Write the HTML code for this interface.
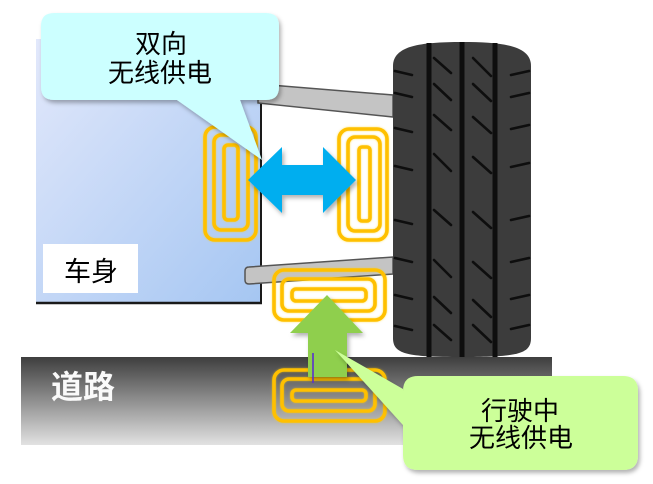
<!DOCTYPE html>
<html><head><meta charset="utf-8"><style>
html,body{margin:0;padding:0;background:#fff;}
svg{display:block;}
text{font-family:"Liberation Sans","Noto Sans CJK SC",sans-serif;}
</style></head><body>
<svg width="653" height="484" viewBox="0 0 653 484" xmlns="http://www.w3.org/2000/svg">
<defs>
<linearGradient id="pan" x1="0" y1="0" x2="1" y2="1">
<stop offset="0" stop-color="#e2e8fb"/><stop offset="1" stop-color="#a5c6f2"/>
</linearGradient>
<linearGradient id="road" x1="0" y1="0" x2="0" y2="1">
<stop offset="0" stop-color="#3e3e3e"/><stop offset="1" stop-color="#e2e2e2"/>
</linearGradient>
<filter id="sh" x="-20%" y="-20%" width="140%" height="150%">
<feDropShadow dx="2" dy="3" stdDeviation="2" flood-color="#000" flood-opacity="0.3"/>
</filter>
<filter id="glow" x="-10%" y="-10%" width="120%" height="120%">
<feDropShadow dx="0" dy="0" stdDeviation="1" flood-color="#ffd000" flood-opacity="0.6"/>
</filter>
</defs>

<!-- road -->
<rect x="21" y="357" width="531" height="88" fill="url(#road)"/>
<text x="83" y="398" font-size="32" font-weight="bold" fill="#fafafa" text-anchor="middle">道路</text>

<!-- body panel -->
<rect x="36" y="39" width="226" height="264" fill="url(#pan)"/>
<line x1="261" y1="39" x2="261" y2="304" stroke="#1a1a1a" stroke-width="2"/>
<line x1="36" y1="303" x2="262" y2="303" stroke="#1a1a1a" stroke-width="2.5"/>
<rect x="43" y="244" width="95" height="49" fill="#fff"/>
<text x="91" y="281" font-size="27" fill="#000" text-anchor="middle">车身</text>

<!-- struts -->
<polygon points="258,84 393,95 393,117 258,103" fill="#c4c4c4" stroke="#555" stroke-width="1.5"/>
<path d="M249,267 L393,257 L393,274 L249,284 Q245,284 245,280 L245,271 Q245,267 249,267 Z" fill="#c4c4c4" stroke="#555" stroke-width="1.5"/>

<!-- coils -->
<g fill="none" stroke="#ffc000" stroke-width="3.6" filter="url(#glow)">
<rect x="205" y="127" width="51" height="113" rx="10"/>
<rect x="214" y="135" width="34" height="95" rx="7"/>
<rect x="224" y="145" width="14" height="75" rx="4"/>

<rect x="339" y="129" width="48" height="111" rx="10"/>
<rect x="348" y="137" width="32" height="94" rx="7"/>
<rect x="359" y="147" width="11" height="74" rx="3"/>

<rect x="274" y="270" width="111" height="50" rx="10"/>
<rect x="282" y="279" width="93" height="32" rx="7"/>
<rect x="292" y="289" width="74" height="12" rx="4"/>

<rect x="274" y="370" width="111" height="51" rx="10"/>
<rect x="282" y="379" width="93" height="32" rx="7"/>
<rect x="292" y="390" width="74" height="11" rx="4"/>
</g>

<!-- tire -->
<path d="M393,66 C393,46 420,42 462,42 C504,42 531,46 531,66 L531,338 C531,354 518,357 462,357 C406,357 393,354 393,338 Z" fill="#3c3c3c"/>
<g stroke="#0e0e0e" stroke-width="5">
<line x1="429" y1="43" x2="429" y2="357"/>
<line x1="462" y1="42" x2="462" y2="357"/>
<line x1="495" y1="43" x2="495" y2="357"/>
</g>
<g stroke="#0e0e0e" stroke-width="2.6" stroke-linecap="round">
<line x1="395" y1="71" x2="412" y2="75"/>
<line x1="395" y1="93" x2="412" y2="97"/>
<line x1="395" y1="128" x2="412" y2="132"/>
<line x1="395" y1="166" x2="412" y2="170"/>
<line x1="395" y1="220" x2="412" y2="224"/>
<line x1="395" y1="258" x2="412" y2="262"/>
<line x1="395" y1="295" x2="412" y2="299"/>
<line x1="395" y1="326" x2="412" y2="330"/>

<line x1="511" y1="75" x2="529" y2="71"/>
<line x1="511" y1="97" x2="529" y2="93"/>
<line x1="511" y1="129" x2="529" y2="125"/>
<line x1="511" y1="167" x2="529" y2="163"/>
<line x1="511" y1="220" x2="529" y2="216"/>
<line x1="511" y1="262" x2="529" y2="258"/>
<line x1="511" y1="299" x2="529" y2="295"/>
<line x1="511" y1="329" x2="529" y2="325"/>

<line x1="434" y1="58" x2="451" y2="73"/>
<line x1="434" y1="84" x2="451" y2="100"/>
<line x1="434" y1="115" x2="451" y2="130"/>
<line x1="434" y1="154" x2="451" y2="171"/>
<line x1="434" y1="210" x2="451" y2="225"/>
<line x1="434" y1="260" x2="451" y2="277"/>
<line x1="434" y1="297" x2="451" y2="313"/>
<line x1="434" y1="325" x2="451" y2="340"/>

<line x1="473" y1="58" x2="491" y2="76"/>
<line x1="473" y1="84" x2="491" y2="101"/>
<line x1="473" y1="117" x2="491" y2="133"/>
<line x1="473" y1="157" x2="491" y2="173"/>
<line x1="473" y1="212" x2="491" y2="228"/>
<line x1="473" y1="262" x2="491" y2="278"/>
<line x1="473" y1="300" x2="491" y2="317"/>
<line x1="473" y1="325" x2="491" y2="342"/>
</g>

<!-- blue double arrow -->
<polygon points="248,180 282,147 282,165 323,165 323,147 356,180 323,213 323,195 282,195 282,213" fill="#00aeef" filter="url(#sh)"/>

<!-- green arrow -->
<polygon points="327,295 363,333 347,333 347,377 308,377 308,333 290,333" fill="#8fcf4e" filter="url(#sh)"/>
<line x1="313" y1="353" x2="313" y2="383" stroke="#5a30d0" stroke-width="1.6"/>

<!-- cyan callout -->
<g filter="url(#sh)">
<path d="M54,13 L266,13 Q279,13 279,26 L279,87 Q279,100 266,100 L240,100 L262,160 L177,100 L54,100 Q41,100 41,87 L41,26 Q41,13 54,13 Z" fill="#ccffff"/>
</g>
<text x="161" y="53" font-size="26" fill="#000" text-anchor="middle">双向</text>
<text x="160" y="82" font-size="26" fill="#000" text-anchor="middle">无线供电</text>

<!-- green callout -->
<g filter="url(#sh)">
<path d="M418,376 L623,376 Q638,376 638,391 L638,455 Q638,470 623,470 L418,470 Q403,470 403,455 L403,425 L335,350 L403,389 L403,391 Q403,376 418,376 Z" fill="#ccff99"/>
</g>
<text x="520" y="420" font-size="26" fill="#000" text-anchor="middle">行驶中</text>
<text x="521" y="447" font-size="26" fill="#000" text-anchor="middle">无线供电</text>
</svg>
</body></html>
